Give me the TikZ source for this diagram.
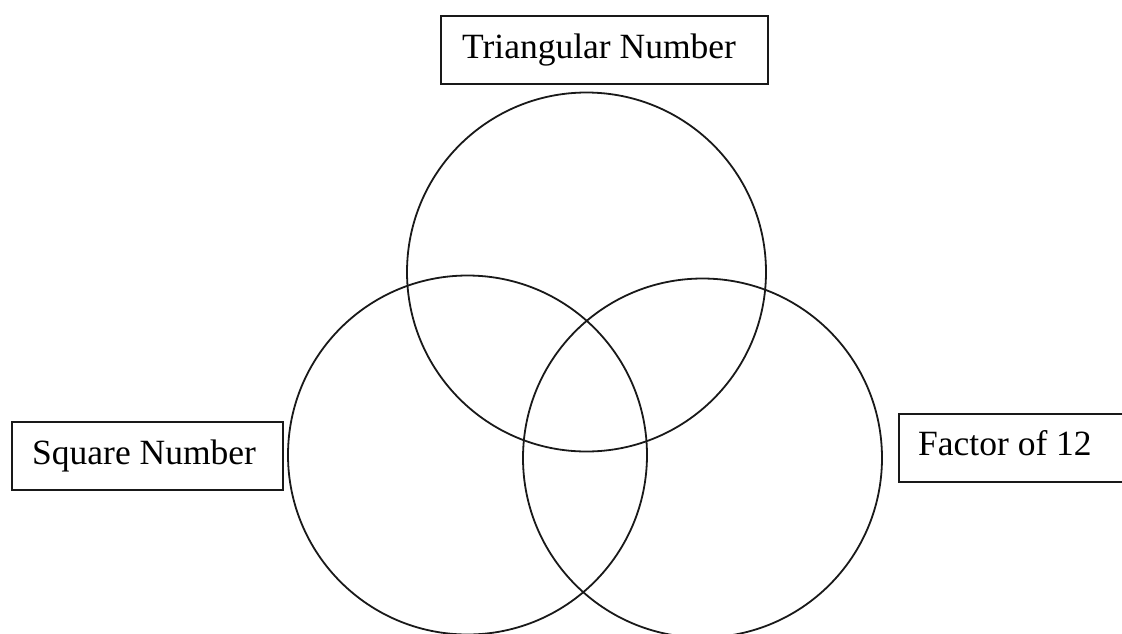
\documentclass[tikz,border=0pt]{standalone}
\usepackage{fontspec}
\setmainfont{Liberation Serif}
\begin{document}
\begin{tikzpicture}[x=1pt,y=-1pt,
  ring/.style={draw=black!90, line width=1.8pt},
  labelbox/.style={draw=black!90, line width=1.8pt, rectangle, inner sep=0pt, anchor=north west},
  labeltext/.style={anchor=base west, inner sep=0pt, font=\fontsize{35.5}{40}\selectfont}]
\useasboundingbox (0,0) rectangle (1122,633);
\clip (0,0) rectangle (1122,633);
% circles
\draw[ring] (586.5,272) circle[radius=179.5];
\draw[ring] (467.5,455) circle[radius=179.5];
\draw[ring] (702.5,458) circle[radius=179.5];
% boxes
\node[labelbox, minimum width=327pt, minimum height=68pt] (tribox) at (440,15) {};
\node[labeltext] (tri) at (462,58) {Triangular Number};
\node[labelbox, minimum width=271pt, minimum height=68pt] (sqbox) at (11,421) {};
\node[labeltext] (sq) at (32,464) {Square Number};
\node[labelbox, minimum width=240pt, minimum height=68pt] (facbox) at (898,413) {};
\node[labeltext] (fac) at (918,455) {Factor of 12};
\end{tikzpicture}
\end{document}
